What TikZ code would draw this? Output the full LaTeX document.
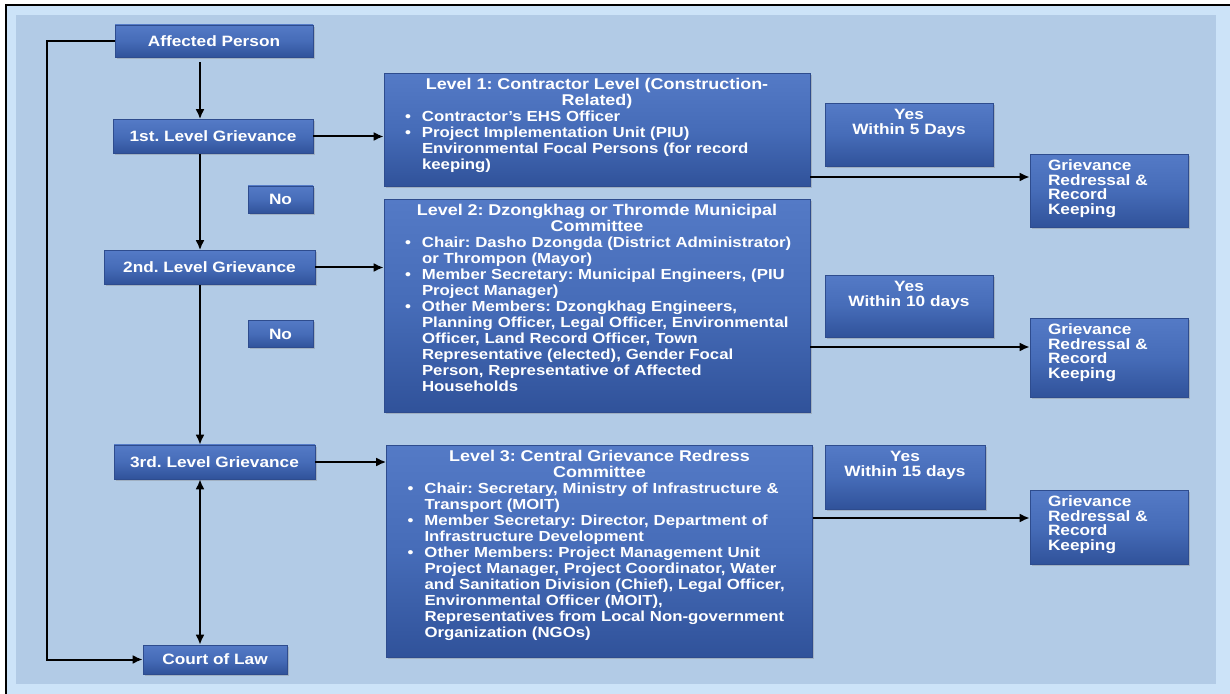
\documentclass[tikz,border=0pt]{standalone}
\usepackage{fontspec}
\setmainfont{Liberation Sans}[FakeStretch=1.15]
\usetikzlibrary{arrows.meta,shadows}
\frenchspacing
\definecolor{bgblue}{RGB}{178,203,230}
\definecolor{bandblue}{RGB}{204,227,248}
\definecolor{boxtop}{RGB}{84,122,198}
\definecolor{boxmid}{RGB}{70,108,184}
\definecolor{boxbot}{RGB}{48,82,154}
\definecolor{boxline}{RGB}{46,76,142}
\tikzset{basic/.style={draw=boxline,line width=0.3pt,top color=boxtop,bottom color=boxbot,
                       middle color=boxmid,text=white,
                       font=\fontsize{7.5pt}{7.5pt}\selectfont\bfseries,
                       drop shadow={shadow xshift=0.8pt,shadow yshift=-0.8pt,opacity=0.35}}}
\tikzset{stage/.style={basic,rectangle,minimum height=17pt,inner sep=0pt}}
\tikzset{note/.style={basic,rectangle,minimum width=32.5pt,minimum height=13.5pt,inner sep=0pt}}
\tikzset{level/.style={basic,rectangle,anchor=north,text width=200pt,inner xsep=6.5pt,
                       inner ysep=2pt,text height=6pt,
                       font=\fontsize{7.3pt}{8pt}\selectfont\bfseries}}
\tikzset{yesbox/.style={basic,rectangle,anchor=north,inner xsep=4pt,inner ysep=2pt,
                        text height=6pt,align=center}}
\tikzset{grk/.style={basic,rectangle,anchor=north,text width=61pt,inner xsep=9pt,
                     inner ysep=2pt,text height=6pt,align=left,
                     font=\fontsize{7.5pt}{7.4pt}\selectfont\bfseries}}
\tikzset{link/.style={-{Latex[length=5pt,width=4.5pt]},line width=1pt}}
\newcommand{\lvltitle}[1]{{\centering\fontsize{7.8pt}{8pt}\selectfont #1\par}}
\newcommand{\bitem}[1]{\par\hangindent=12.5pt\hangafter=1\noindent
                       \makebox[12.5pt][l]{\hspace{4pt}\textbullet}#1\par}

\begin{document}
\begin{tikzpicture}[x=0.5pt,y=-0.5pt]
    % Background and frame
    \useasboundingbox (0,0) rectangle (1230,694);
    \fill[white] (0,0) rectangle (1230,694);
    \fill[bandblue] (6,5) rectangle (1230,694);
    \fill[bgblue] (16,15) rectangle (1216,684);
    \draw[line width=1pt] (6,694) -- (6,5) -- (1230,5);
    % Draw grievance stages
    \node[stage, minimum width=99pt, minimum height=16pt] (affected) at (214,41) {Affected Person};
    \foreach \h/\x/\y/\w [count=\hi] in {1st./213/136.5/100pt,2nd./209.5/267.5/105.5pt,3rd./214.5/462/100.5pt}{%
          \node[stage, minimum width=\w] (g\hi) at (\x,\y) {\h{} Level Grievance};
        }
    \node[stage, minimum width=72pt, minimum height=14.5pt] (court) at (215,659.5) {Court of Law};
    % No labels
    \node[note] (no1) at (280.5,199.5) {No};
    \node[note] (no2) at (280.5,334) {No};
    % Draw edges down the left column
    \coordinate (spine) at (200,0);
    \draw[link, shorten <=2.5pt] (affected.south -| spine) -- (g1.north -| spine);
    \draw[link] (g1.south -| spine) -- (g2.north -| spine);
    \draw[link] (g2.south -| spine) -- (g3.north -| spine);
    \draw[link, {Latex[length=5pt,width=4.5pt]}-{Latex[length=5pt,width=4.5pt]}]
        (g3.south -| spine) -- (court.north -| spine);
    \draw[link] (affected.west) -- ++(-68,0) |- (court.west);
    % Committee levels
    \node[level, text depth=46.5pt] (lvl1) at (597,73) {%
        \lvltitle{Level 1: Contractor Level (Construction-\\Related)}
        \bitem{Contractor's EHS Officer}
        \bitem{Project Implementation Unit (PIU)\newline Environmental Focal Persons (for record\newline keeping)}};
    \node[level, text depth=96.5pt] (lvl2) at (597,199) {%
        \lvltitle{Level 2: Dzongkhag or Thromde Municipal\\Committee}
        \bitem{Chair: Dasho Dzongda (District Administrator)\newline or Thrompon (Mayor)}
        \bitem{Member Secretary: Municipal Engineers, (PIU\newline Project Manager)}
        \bitem{Other Members: Dzongkhag Engineers,\newline Planning Officer, Legal Officer, Environmental\newline Officer, Land Record Officer, Town\newline Representative (elected), Gender Focal\newline Person, Representative of Affected\newline Households}};
    \node[level, text depth=96pt] (lvl3) at (599.5,445) {%
        \lvltitle{Level 3: Central Grievance Redress\\Committee}
        \bitem{Chair: Secretary, Ministry of Infrastructure \&\newline Transport (MOIT)}
        \bitem{Member Secretary: Director, Department of\newline Infrastructure Development}
        \bitem{Other Members: Project Management Unit\newline \mbox{Project Manager, Project Coordinator, Water}\newline and Sanitation Division (Chief), Legal Officer,\newline Environmental Officer (MOIT),\newline Representatives from Local Non-government\newline Organization (NGOs)}};
    % Edges from stages to levels
    \foreach \i in {1,2,3}{%
          \draw[link] (g\i.east) -- (g\i.east -| lvl\i.west);
        }
    % Yes boxes
    \foreach \d/\x/\y/\w/\h [count=\i] in {5 Days/909/103/84pt/21.5pt,10 days/909/275/84pt/21pt,15 days/905/445/80pt/22pt}{%
          \node[yesbox, text width=\w-8pt, text depth=\h] (yes\i) at (\x,\y) {Yes\\Within \d};
        }
    % Redressal boxes and edges
    \foreach \t/\h/\a [count=\i] in {154/26.5pt/177,318/29.5pt/347,490/27pt/518}{%
          \node[grk, text depth=\h] (grk\i) at (1109,\t) {Grievance\\Redressal \&\\Record\\Keeping};
          \coordinate (ya\i) at (0,\a);
          \draw[link] (lvl\i.east |- ya\i) -- (grk\i.west |- ya\i);
        }
\end{tikzpicture}
\end{document}
